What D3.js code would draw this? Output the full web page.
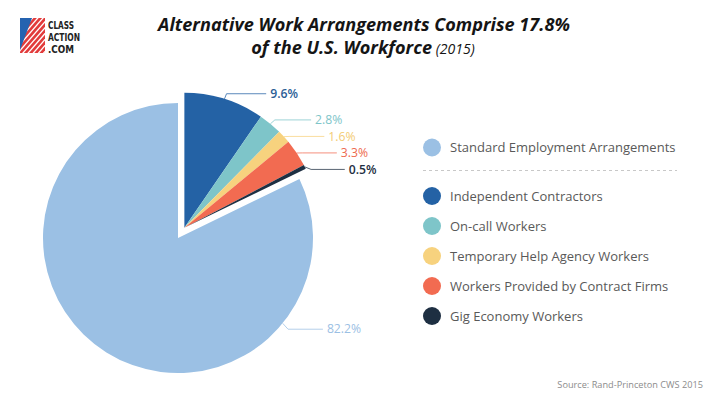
<!DOCTYPE html>
<html>
<head>
<meta charset="utf-8">
<script src="https://cdn.jsdelivr.net/npm/d3@7"></script>
<style>
  html, body { margin: 0; padding: 0; background: #fff; }
  svg { display: block; }
</style>
</head>
<body>
<svg id="chart" width="720" height="398"></svg>
<script>
// ---- data ----
const categories = ["Independent Contractors", "On-call Workers", "Temporary Help Agency Workers",
                    "Workers Provided by Contract Firms", "Gig Economy Workers", "Standard Employment Arrangements"];
const values = [9.6, 2.8, 1.6, 3.3, 0.5, 82.2];
const labels = ["9.6%", "2.8%", "1.6%", "3.3%", "0.5%", "82.2%"];
const legendOrder = ["Standard Employment Arrangements", "Independent Contractors", "On-call Workers",
                     "Temporary Help Agency Workers", "Workers Provided by Contract Firms", "Gig Economy Workers"];
const titleLine1 = "Alternative Work Arrangements Comprise 17.8%";
const titleLine2a = "of the U.S. Workforce";
const titleLine2b = " (2015)";
const sourceText = "Source: Rand-Princeton CWS 2015";
const logoLines = ["CLASS", "ACTION", ".COM"];

// ---- styles ----
const colors = {
  "Standard Employment Arrangements": "#9bc0e4",
  "Independent Contractors": "#2462a5",
  "On-call Workers": "#7ec5c9",
  "Temporary Help Agency Workers": "#f7d27e",
  "Workers Provided by Contract Firms": "#f26b51",
  "Gig Economy Workers": "#1e2f42"
};
const labelColors = {
  "Standard Employment Arrangements": "#9bc0e4",
  "Independent Contractors": "#2b5e96",
  "On-call Workers": "#7ec5c9",
  "Temporary Help Agency Workers": "#f3cc74",
  "Workers Provided by Contract Firms": "#ee6a4e",
  "Gig Economy Workers": "#1e2f42"
};

const svg = d3.select("#chart");
const cx = 178, cy = 238, R = 135;
const slicedOffset = 12;
const bigLabelFrac = 0.22;
const labelGap = 16.5;

// ---- title ----
const title = svg.append("g").attr("transform", "translate(364,0)");
const t1 = title.append("text").attr("x", 0).attr("y", 31)
  .attr("text-anchor", "middle")
  .style("font-family", "'Open Sans'").style("font-weight", 700).style("font-style", "italic")
  .style("font-size", "18px").style("fill", "#151515").text(titleLine1);
const t2 = title.append("text").attr("x", -1).attr("y", 54)
  .attr("text-anchor", "middle")
  .style("font-family", "'Open Sans'").style("font-style", "italic").style("fill", "#151515");
t2.append("tspan").style("font-weight", 700).style("font-size", "18px").text(titleLine2a);
t2.append("tspan").style("font-weight", 400).style("font-size", "14px").text(titleLine2b);
const w1 = t1.node().getComputedTextLength();
const k = 412 / w1;
title.attr("transform", `translate(364,0) scale(${k},1)`);

// ---- logo ----
const logo = svg.append("g");
const defs = svg.append("defs");
defs.append("clipPath").attr("id", "flagclip")
  .append("rect").attr("x", 20).attr("y", 18).attr("width", 25).attr("height", 35);
const flag = logo.append("g").attr("clip-path", "url(#flagclip)");
flag.append("rect").attr("x", 20).attr("y", 18).attr("width", 25).attr("height", 35).attr("fill", "#fff");
const stripes = d3.range(-4, 14);
flag.selectAll("line.stripe").data(stripes).enter().append("line")
  .attr("x1", d => 20 + d * 5.2 - 30).attr("y1", 58)
  .attr("x2", d => 20 + d * 5.2 + 10).attr("y2", 12)
  .attr("stroke", "#e23b3b").attr("stroke-width", 2.6);
flag.append("path").attr("d", "M20,18 L32,18 L20,50 Z").attr("fill", "#2563b0");
const logoText = logo.append("g").style("font-family", "'DejaVu Sans Condensed', 'DejaVu Sans'")
  .style("font-weight", 700).style("fill", "#222");
const logoW = [26, 32, 26];
logoLines.forEach((s, i) => {
  logoText.append("text").attr("x", 48).attr("y", 28.5 + i * 12).style("font-size", "10.3px")
    .attr("textLength", logoW[i]).attr("lengthAdjust", "spacingAndGlyphs").text(s);
});

// ---- pie ----
const data = categories.map((c, i) => ({ cat: c, value: values[i], label: labels[i] }));
const pie = d3.pie().sort(null).value(d => d.value).startAngle(0).endAngle(2 * Math.PI);
const arcs = pie(data);
const arc = d3.arc().innerRadius(0).outerRadius(R);

const isAlt = a => a.data.cat !== "Standard Employment Arrangements";
const altArcs = arcs.filter(isAlt);
const groupMid = (d3.min(altArcs, a => a.startAngle) + d3.max(altArcs, a => a.endAngle)) / 2;
const ox = slicedOffset * Math.sin(groupMid), oy = -slicedOffset * Math.cos(groupMid);

// label layout
const lay = arcs.map(a => {
  const alt = isAlt(a);
  const dx = alt ? ox : 0, dy = alt ? oy : 0;
  const ang = alt ? (a.startAngle + a.endAngle) / 2 : a.startAngle + bigLabelFrac * (a.endAngle - a.startAngle);
  const s = Math.sin(ang), c = Math.cos(ang);
  return {
    a, dx, dy,
    p0: [R * s, -R * c],
    p1: [(R + 7) * s, -(R + 7) * c + 1.5],
    xEnd: 42.6 + 132 * s
  };
});
// avoid vertical collisions among alternative labels (sorted top to bottom)
const altLay = lay.filter(l => isAlt(l.a)).sort((u, v) => u.p1[1] - v.p1[1]);
for (let i = 1; i < altLay.length; i++) {
  const prev = altLay[i - 1].p1[1];
  if (altLay[i].p1[1] - prev < labelGap) altLay[i].p1[1] = prev + labelGap;
}

const pieG = svg.append("g").attr("transform", `translate(${cx},${cy})`);
lay.forEach(l => {
  const g = pieG.append("g").attr("transform", `translate(${l.dx},${l.dy})`);
  g.append("path").attr("d", arc(l.a)).attr("fill", colors[l.a.data.cat]);
});
lay.forEach(l => {
  const g = pieG.append("g").attr("transform", `translate(${l.dx},${l.dy})`);
  const p2 = [l.xEnd, l.p1[1]];
  g.append("path").attr("d", d3.line()([l.p0, l.p1, p2]))
    .attr("fill", "none").attr("stroke", colors[l.a.data.cat]).attr("stroke-opacity", 0.75).attr("stroke-width", 1);
  const bold = l.a.data.cat === "Independent Contractors" || l.a.data.cat === "Gig Economy Workers";
  g.append("text").attr("x", p2[0] + 4).attr("y", p2[1]).attr("dy", "0.35em")
    .style("font-family", "'Open Sans'").style("font-size", "12.2px")
    .style("font-weight", bold ? 600 : 400)
    .style("fill", labelColors[l.a.data.cat]).text(l.a.data.label);
});

// ---- legend ----
const legend = svg.append("g").attr("transform", "translate(432,0)");
const ly = d3.scalePoint().domain(legendOrder.slice(1)).range([196, 316]);
const yOf = c => c === legendOrder[0] ? 147.5 : ly(c);
legendOrder.forEach(c => {
  legend.append("circle").attr("cx", 0).attr("cy", yOf(c)).attr("r", 9).attr("fill", colors[c]);
  legend.append("text").attr("x", 18).attr("y", yOf(c)).attr("dy", "0.35em")
    .style("font-family", "'Open Sans'").style("font-size", "13px").style("fill", "#595959").text(c);
});
legend.append("line").attr("x1", -9).attr("x2", 245).attr("y1", 170.5).attr("y2", 170.5)
  .attr("stroke", "#c8c8c8").attr("stroke-dasharray", "3,3").attr("stroke-width", 1);

// ---- source ----
svg.append("text").attr("x", 703).attr("y", 388).attr("text-anchor", "end")
  .style("font-family", "'Open Sans'").style("font-size", "9.2px").style("fill", "#8c8c8c").text(sourceText);
</script>
</body>
</html>
